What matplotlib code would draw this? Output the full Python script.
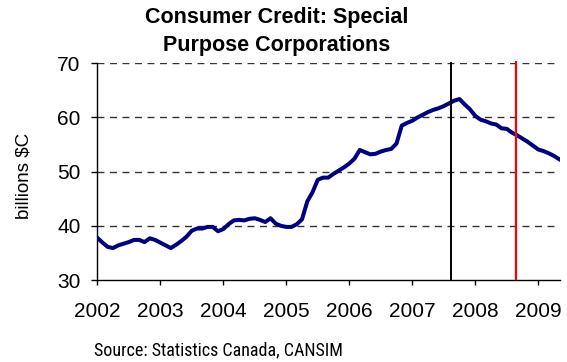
import numpy as np
import matplotlib
matplotlib.use("Agg")
from matplotlib import pyplot as plt
from matplotlib import font_manager

# monthly balances, Jan 2002 .. May 2009 (billions $C)
credit_2002 = [37.8, 36.9, 36.1, 35.9, 36.4, 36.7, 37.0, 37.4, 37.4, 37.0, 37.7, 37.4]
credit_2003 = [36.9, 36.4, 35.9, 36.5, 37.2, 38.0, 39.1, 39.5, 39.5, 39.8, 39.8, 39.0]
credit_2004 = [39.4, 40.3, 41.0, 41.1, 41.0, 41.3, 41.4, 41.1, 40.7, 41.4, 40.4, 40.0]
credit_2005 = [39.8, 39.8, 40.3, 41.2, 44.5, 46.2, 48.5, 48.9, 48.9, 49.6, 50.2, 50.8]
credit_2006 = [51.5, 52.4, 54.0, 53.6, 53.2, 53.3, 53.7, 54.0, 54.2, 55.2, 58.5, 59.0]
credit_2007 = [59.4, 60.0, 60.5, 61.0, 61.4, 61.7, 62.1, 62.6, 63.1, 63.4, 62.4, 61.5]
credit_2008 = [60.3, 59.6, 59.3, 58.9, 58.7, 58.0, 57.9, 57.2, 56.7, 56.1, 55.5, 54.8]
credit_2009 = [54.1, 53.8, 53.4, 52.9, 52.3]

years = [2002, 2003, 2004, 2005, 2006, 2007, 2008, 2009]
black_marker = 2007.61
red_marker = 2008.65

values = (credit_2002 + credit_2003 + credit_2004 + credit_2005 +
          credit_2006 + credit_2007 + credit_2008 + credit_2009)
dates = 2002 + np.arange(len(values)) / 12.0

# narrow font for the source line, if there is one
installed = font_manager.fontManager.ttflist
names = {f.name for f in installed}
src_font = dict(family='Liberation Sans', fontsize=11)
for n in ['Liberation Sans Narrow', 'Arial Narrow', 'Roboto Condensed', 'Open Sans Condensed']:
    if n in names:
        src_font = dict(family=n, fontsize=13)
        break
else:
    if any(f.name == 'DejaVu Sans' and 'condensed' in str(f.stretch) for f in installed):
        src_font = dict(family='DejaVu Sans', stretch='condensed', fontsize=11.5)

fig = plt.figure(figsize=(5.67, 3.62), dpi=100)
ax = fig.add_axes([0.1716, 0.2265, 0.816, 0.5986])

for y in [40, 50, 60, 70]:
    ax.axhline(y, color='#333333', linestyle=(0, (5, 4)), linewidth=1.0, zorder=1)

ax.plot(dates, values, color='#000080', linewidth=2.9, solid_joinstyle='round', zorder=3)

ax.vlines(black_marker, 30, 70.2, color='black', linewidth=1.4, zorder=4, clip_on=False)
ax.vlines(red_marker, 30, 70.4, color='red', linewidth=1.6, zorder=4, clip_on=False)

ax.set_xlim(2002, 2009.345)
ax.set_ylim(30, 70)
ax.set_xticks(years)
ax.set_xticklabels([str(y) for y in years])
ax.set_yticks([30, 40, 50, 60, 70])

for side in ['top', 'right']:
    ax.spines[side].set_visible(False)
for side in ['left', 'bottom']:
    ax.spines[side].set_linewidth(1.0)

ax.tick_params(axis='both', direction='out', width=1.0, labelsize=15)
ax.tick_params(axis='x', length=3.6, pad=12)
ax.tick_params(axis='y', length=4.5, pad=7.5)
for lab in ax.get_xticklabels() + ax.get_yticklabels():
    lab.set_family('Liberation Sans')

ax.set_ylabel('billions $C', fontsize=13.5, family='Liberation Sans')
ax.yaxis.set_label_coords(-0.139, 0.48)

fig.text(0.4877, 0.9365, 'Consumer Credit: Special', ha='center', va='baseline',
         fontsize=15.5, fontweight='bold', family='Liberation Sans')
fig.text(0.4877, 0.859, 'Purpose Corporations', ha='center', va='baseline',
         fontsize=15.5, fontweight='bold', family='Liberation Sans')

fig.text(0.166, 0.033, 'Source: Statistics Canada, CANSIM', ha='left', va='center',
         **src_font)

fig.savefig('out.png', dpi=100)
